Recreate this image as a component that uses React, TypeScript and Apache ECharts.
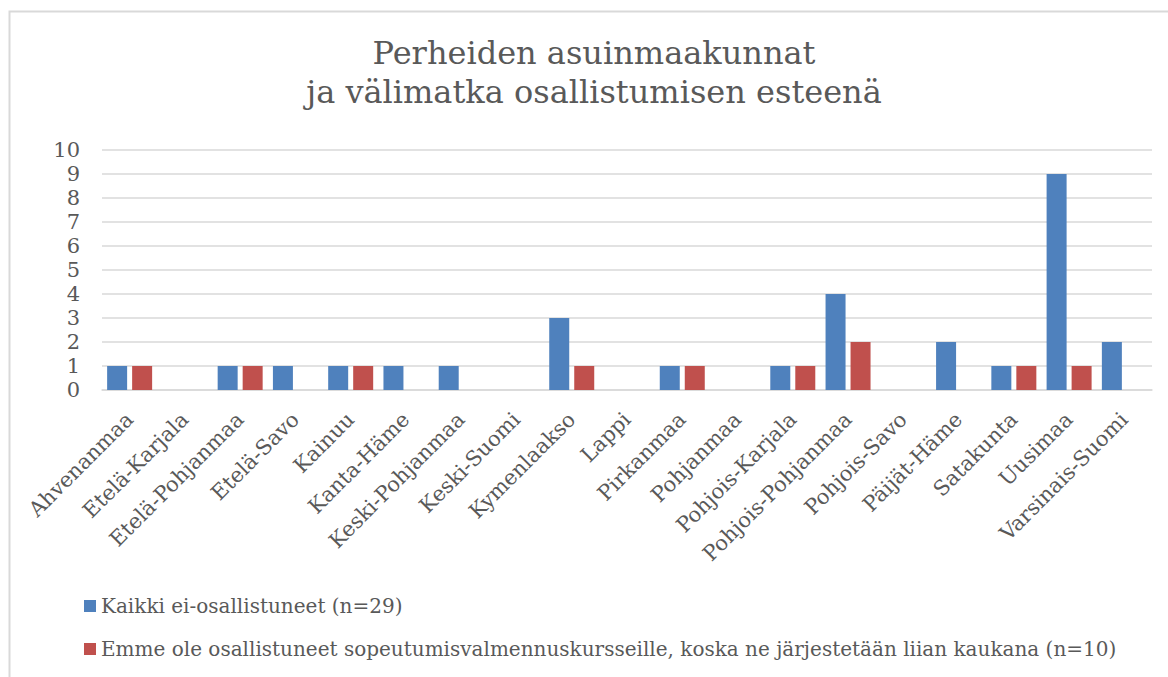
import React, { useEffect, useRef } from "react";
import * as echarts from "echarts";

const categories = [
  "Ahvenanmaa", "Etelä-Karjala", "Etelä-Pohjanmaa", "Etelä-Savo", "Kainuu",
  "Kanta-Häme", "Keski-Pohjanmaa", "Keski-Suomi", "Kymenlaakso", "Lappi",
  "Pirkanmaa", "Pohjanmaa", "Pohjois-Karjala", "Pohjois-Pohjanmaa", "Pohjois-Savo",
  "Päijät-Häme", "Satakunta", "Uusimaa", "Varsinais-Suomi",
];
const allNonParticipants = [1, 0, 1, 1, 1, 1, 1, 0, 3, 0, 1, 0, 1, 4, 0, 2, 1, 9, 2];
const tooFarAway = [1, 0, 1, 0, 1, 0, 0, 0, 1, 0, 1, 0, 1, 2, 0, 0, 1, 1, 0];
const seriesNames = [
  "Kaikki ei-osallistuneet (n=29)",
  "Emme ole osallistuneet sopeutumisvalmennuskursseille, koska ne järjestetään liian kaukana (n=10)",
];
const titleText = "Perheiden asuinmaakunnat\nja välimatka osallistumisen esteenä";

const FONT = "DejaVu Serif";
const TEXT = "#595959";
const GRID = "#d9d9d9";

export default function App() {
  const ref = useRef<HTMLDivElement>(null);
  useEffect(() => {
    if (!ref.current) return;
    const chart = echarts.init(ref.current, undefined, { renderer: "svg" });
    chart.setOption({
      animation: false,
      backgroundColor: "#ffffff",
      textStyle: { fontFamily: FONT, color: TEXT },
      graphic: [
        {
          type: "rect",
          left: 7,
          top: 9,
          shape: { x: 0, y: 0, width: 1200, height: 720 },
          style: { fill: "none", stroke: GRID, lineWidth: 2 },
          silent: true,
        },
        {
          type: "text",
          x: 594,
          y: 33,
          silent: true,
          style: {
            text: titleText,
            align: "center",
            verticalAlign: "top",
            fontFamily: FONT,
            fontSize: 32,
            lineHeight: 39,
            fill: TEXT,
          },
        },
      ],
      legend: {
        orient: "vertical",
        left: 79,
        top: 591,
        itemWidth: 12,
        itemHeight: 12,
        itemGap: 23,
        icon: "rect",
        textStyle: { fontFamily: FONT, fontSize: 20, color: TEXT },
        data: seriesNames,
      },
      grid: { left: 102, right: 16, top: 150, bottom: 287, containLabel: false },
      xAxis: {
        type: "category",
        data: categories,
        axisLine: { lineStyle: { color: GRID, width: 1.5 } },
        axisTick: { show: false },
        axisLabel: {
          interval: 0,
          rotate: 45,
          margin: 26,
          fontFamily: FONT,
          fontSize: 21,
          color: TEXT,
        },
      },
      yAxis: {
        type: "value",
        min: 0,
        max: 10,
        interval: 1,
        axisLine: { show: false },
        axisTick: { show: false },
        splitLine: { lineStyle: { color: GRID, width: 1.5 } },
        axisLabel: { fontFamily: FONT, fontSize: 21, color: TEXT, margin: 22 },
      },
      series: [
        {
          name: seriesNames[0],
          type: "bar",
          data: allNonParticipants,
          barWidth: 20,
          barGap: "25%",
          itemStyle: { color: "#4f81bd" },
        },
        {
          name: seriesNames[1],
          type: "bar",
          data: tooFarAway,
          barWidth: 20,
          barGap: "25%",
          itemStyle: { color: "#c0504d" },
        },
      ],
    });
    return () => chart.dispose();
  }, []);
  return (
    <div
      ref={ref}
      style={{ position: "absolute", left: 0, top: 0, width: 1168, height: 677 }}
    />
  );
}
